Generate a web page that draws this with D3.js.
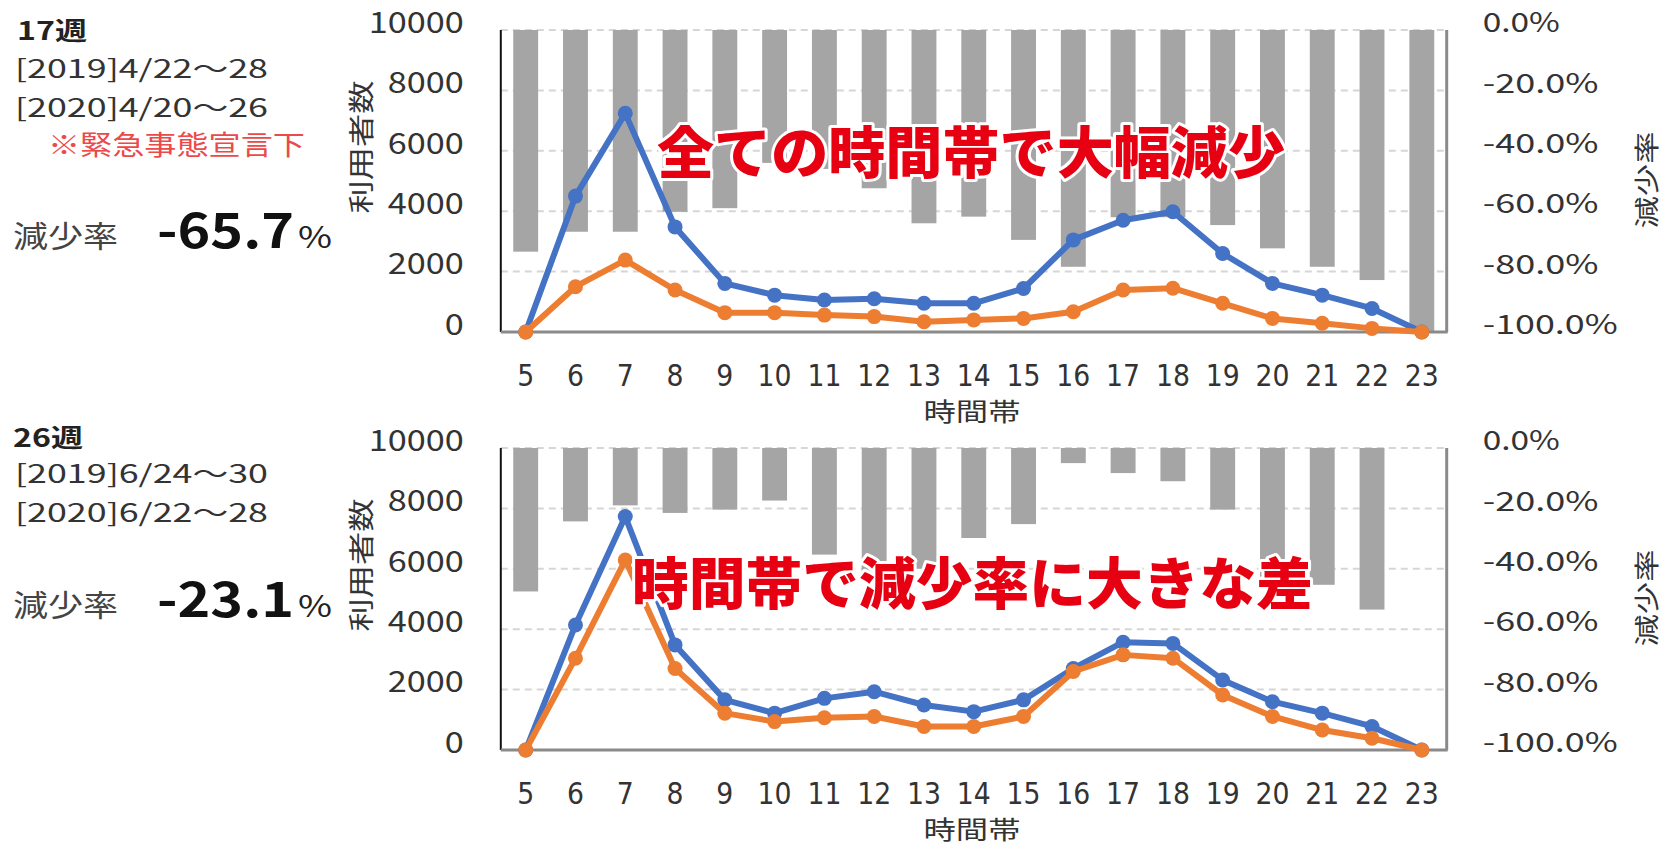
<!DOCTYPE html>
<html>
<head>
<meta charset="utf-8">
<style>
  body { margin: 0; background: #fff; }
  svg text { font-family: "Noto Sans CJK JP", "DejaVu Sans", sans-serif; }
  .grid line { stroke: #d6d6d6; stroke-width: 2; stroke-dasharray: 7,5; }
  .axis text { fill: #333; }
  .bar { fill: #a5a5a5; }
  .callout { fill: #e60012; font-weight: 900; stroke: #fff; stroke-width: 6; paint-order: stroke; stroke-linejoin: round; }
</style>
</head>
<body>
<svg width="1665" height="845"></svg>
<script src="https://d3js.org/d3.v7.min.js"></script>
<script>

// hour of day (x categories)
var hours = ["5","6","7","8","9","10","11","12","13","14","15","16","17","18","19","20","21","22","23"];

// week 17 (2019 blue, 2020 orange, bar = decrease rate)
var users17_2019 = [0, 4500, 7240, 3480, 1610, 1220, 1060, 1100, 950, 950, 1440, 3050, 3700, 3980, 2600, 1610, 1220, 780, 0];
var users17_2020 = [0, 1500, 2380, 1390, 640, 640, 560, 510, 340, 400, 450, 670, 1390, 1450, 950, 450, 290, 120, 0];
var rate17 = [-0.734, -0.668, -0.668, -0.602, -0.590, -0.44, -0.46, -0.524, -0.640, -0.618, -0.695, -0.784, -0.62, -0.62, -0.646, -0.723, -0.784, -0.828, -1.0];

// week 26
var users26_2019 = [0, 4140, 7730, 3480, 1660, 1220, 1710, 1930, 1490, 1270, 1660, 2700, 3570, 3530, 2320, 1600, 1220, 780, 0];
var users26_2020 = [0, 3040, 6290, 2700, 1220, 940, 1070, 1110, 780, 780, 1110, 2600, 3150, 3040, 1820, 1110, 660, 390, 0];
var rate26 = [-0.475, -0.243, -0.19, -0.215, -0.204, -0.174, -0.353, -0.43, -0.40, -0.298, -0.252, -0.05, -0.083, -0.11, -0.204, -0.426, -0.453, -0.535, null];

var weekLabels = ["17週", "26週"];
var period2019 = ["[2019]4/22～28", "[2019]6/24～30"];
var period2020 = ["[2020]4/20～26", "[2020]6/22～28"];
var notes = ["※緊急事態宣言下", ""];
var totalRates = ["-65.7", "-23.1"];
var callouts = ["全ての時間帯で大幅減少", "時間帯で減少率に大きな差"];

var leftTicks = [0, 2000, 4000, 6000, 8000, 10000];
var rightTicks = [-1, -0.8, -0.6, -0.4, -0.2, 0];

var svg = d3.select("svg");

var x = d3.scaleBand().domain(hours).range([500.8, 1446.7]).paddingInner(0.5).paddingOuter(0.25);

var panels = [
  {top: 30, bottom: 332, u19: users17_2019, u20: users17_2020, rate: rate17, idx: 0,
   text: {week: 40, p19: 78, p20: 117, note: 155, rate: 247, weekX: 17},
   calloutX: 657, calloutY: 173, calloutW: 628},
  {top: 448, bottom: 750, u19: users26_2019, u20: users26_2020, rate: rate26, idx: 1,
   text: {week: 447, p19: 483, p20: 522, note: null, rate: 616, weekX: 13},
   calloutX: 632, calloutY: 604, calloutW: 681}
];

function fit(sel, w) {
  sel.attr("textLength", w).attr("lengthAdjust", "spacingAndGlyphs");
}

panels.forEach(function(p) {
  var g = svg.append("g");
  var yL = d3.scaleLinear().domain([0, 10000]).range([p.bottom, p.top]);
  var yR = d3.scaleLinear().domain([-1, 0]).range([p.bottom, p.top]);
  var x0 = x.range()[0], x1 = x.range()[1];
  var half = x.bandwidth() / 2;

  // gridlines
  g.append("g").attr("class", "grid")
    .selectAll("line").data(leftTicks.slice(1)).join("line")
    .attr("x1", x0).attr("x2", x1)
    .attr("y1", function(d) { return yL(d); })
    .attr("y2", function(d) { return yL(d); });

  // decrease rate bars hanging from 0%
  g.selectAll(".bar").data(p.rate.map(function(r, i) { return {h: hours[i], r: r}; })
      .filter(function(d) { return d.r !== null; }))
    .join("rect").attr("class", "bar")
    .attr("x", function(d) { return x(d.h); })
    .attr("width", x.bandwidth())
    .attr("y", yR(0))
    .attr("height", function(d) { return yR(d.r) - yR(0); });

  // axis lines
  g.append("line").attr("x1", x0).attr("x2", x0).attr("y1", p.top).attr("y2", p.bottom)
    .attr("stroke", "#111").attr("stroke-width", 2);
  g.append("line").attr("x1", x1).attr("x2", x1).attr("y1", p.top).attr("y2", p.bottom)
    .attr("stroke", "#8a8a8a").attr("stroke-width", 3);
  g.append("line").attr("x1", x0).attr("x2", x1 + 1).attr("y1", p.bottom).attr("y2", p.bottom)
    .attr("stroke", "#8a8a8a").attr("stroke-width", 3);

  // left axis
  var la = g.append("g").attr("class", "axis")
    .attr("transform", "translate(" + x0 + ",0)")
    .call(d3.axisLeft(yL).tickValues(leftTicks).tickSize(0).tickPadding(37).tickFormat(d3.format("d")));
  la.select(".domain").remove();
  la.attr("font-family", null).attr("font-size", null);
  la.selectAll("text").attr("y", -7).style("font-size", "29px")
    .each(function() { fit(d3.select(this), 19 * this.textContent.length); });

  // right axis
  var ra = g.append("g").attr("class", "axis")
    .attr("transform", "translate(" + x1 + ",0)")
    .call(d3.axisRight(yR).tickValues(rightTicks).tickSize(0).tickPadding(36)
      .tickFormat(function(d) { return (d * 100).toFixed(1) + "%"; }));
  ra.select(".domain").remove();
  ra.attr("font-family", null).attr("font-size", null);
  ra.selectAll("text").attr("y", -7).style("font-size", "27px")
    .each(function() { fit(d3.select(this), 19.3 * this.textContent.length); });

  // bottom axis
  var ba = g.append("g").attr("class", "axis")
    .attr("transform", "translate(0," + p.bottom + ")")
    .call(d3.axisBottom(x).tickSize(0));
  ba.select(".domain").remove();
  ba.attr("font-family", null).attr("font-size", null);
  ba.selectAll("text").attr("y", 54).attr("dy", null)
    .style("font-size", "31px").style("font-family", "'DejaVu Sans', sans-serif")
    .each(function() { fit(d3.select(this), 17 * this.textContent.length); });

  // axis titles
  var mid = (p.top + p.bottom) / 2;
  g.append("text").attr("transform", "translate(359," + (mid - 34) + ") rotate(-90)")
    .attr("text-anchor", "middle").attr("dominant-baseline", "central")
    .style("font-size", "26px").attr("fill", "#333").text("利用者数")
    .call(fit, 133);
  g.append("text").attr("transform", "translate(1645," + (mid - 1) + ") rotate(-90)")
    .attr("text-anchor", "middle").attr("dominant-baseline", "central")
    .style("font-size", "25px").attr("fill", "#333").text("減少率")
    .call(fit, 97);
  g.append("text").attr("x", 972).attr("y", p.bottom + 89)
    .attr("text-anchor", "middle").style("font-size", "25px").attr("fill", "#333")
    .text("時間帯").call(fit, 97);

  // lines
  var line = function(vals) {
    return d3.line().x(function(d, i) { return x(hours[i]) + half; })
      .y(function(d) { return yL(d); })(vals);
  };
  [[p.u19, "#4472c4"], [p.u20, "#ed7d31"]].forEach(function(s) {
    g.append("path").attr("d", line(s[0])).attr("fill", "none")
      .attr("stroke", s[1]).attr("stroke-width", 6).attr("stroke-linejoin", "round");
    g.append("g").selectAll("circle").data(s[0]).join("circle")
      .attr("cx", function(d, i) { return x(hours[i]) + half; })
      .attr("cy", function(d) { return yL(d); })
      .attr("r", 7.5).attr("fill", s[1]);
  });

  // callout
  g.append("text").attr("class", "callout").attr("x", p.calloutX).attr("y", p.calloutY)
    .style("font-size", "56px").text(callouts[p.idx]).call(fit, p.calloutW);

  // left info block
  var t = p.text;
  g.append("text").attr("x", t.weekX).attr("y", t.week).style("font-size", "25px")
    .attr("font-weight", "bold").attr("fill", "#222").text(weekLabels[p.idx]).call(fit, 70);
  g.append("text").attr("x", 15).attr("y", t.p19).style("font-size", "25px")
    .attr("fill", "#333").text(period2019[p.idx]).call(fit, 253);
  g.append("text").attr("x", 15).attr("y", t.p20).style("font-size", "25px")
    .attr("fill", "#333").text(period2020[p.idx]).call(fit, 253);
  if (notes[p.idx]) {
    g.append("text").attr("x", 48).attr("y", t.note).style("font-size", "27px")
      .attr("fill", "#ec4a4a").text(notes[p.idx]).call(fit, 257);
  }
  g.append("text").attr("x", 13).attr("y", t.rate).style("font-size", "30px")
    .attr("fill", "#444").text("減少率").call(fit, 105);
  g.append("text").attr("x", 157).attr("y", t.rate + 1).style("font-size", "48px")
    .attr("font-weight", "bold").attr("fill", "#111").text(totalRates[p.idx]).call(fit, 137);
  g.append("text").attr("x", 298).attr("y", t.rate + 1).style("font-size", "30px")
    .attr("fill", "#222").text("%").call(fit, 34);
});

</script>
</body>
</html>
